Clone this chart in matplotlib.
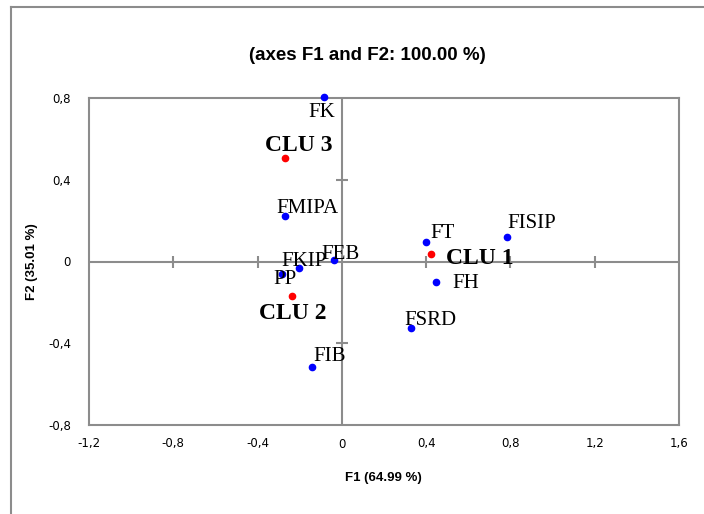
import matplotlib
matplotlib.use("Agg")
import matplotlib.pyplot as plt
from matplotlib.lines import Line2D

# ---- data ----
names = ["FK", "FMIPA", "FKIP", "FEB", "PP", "FIB", "FT", "FISIP", "FH", "FSRD"]
f1 = [-0.085, -0.27, -0.204, -0.038, -0.285, -0.142, 0.399, 0.783, 0.446, 0.327]
f2 = [0.805, 0.222, -0.03, 0.007, -0.06, -0.516, 0.095, 0.12, -0.10, -0.325]

clusters = ["CLU 1", "CLU 2", "CLU 3"]
c1 = [0.422, -0.237, -0.27]
c2 = [0.036, -0.17, 0.506]

xticks = [-1.2, -0.8, -0.4, 0, 0.4, 0.8, 1.2, 1.6]
yticks = [-0.8, -0.4, 0, 0.4, 0.8]
xtick_labels = ["-1,2", "-0,8", "-0,4", "0", "0,4", "0,8", "1,2", "1,6"]
ytick_labels = ["-0,8", "-0,4", "0", "0,4", "0,8"]

title = "(axes F1 and F2: 100.00 %)"
xlabel = "F1 (64.99 %)"
ylabel = "F2 (35.01 %)"

# label offsets in pixels (dx, dy)
name_offsets = {
    "FK": (-2, -16), "FMIPA": (22, 8), "FKIP": (5, 6), "FEB": (7, 6),
    "PP": (3, -6), "FIB": (18, 10), "FT": (17, 9), "FISIP": (25, 13),
    "FH": (30, -2), "FSRD": (20, 7),
}
clu_offsets = {"CLU 1": (49, -4), "CLU 2": (1, -17), "CLU 3": (14, 13)}

grey = "#8c8c8c"
fig = plt.figure(figsize=(7.04, 5.14), dpi=100)
ax = fig.add_axes([89 / 704, 1 - 425 / 514, 590 / 704, 327 / 514])

# outer chart-area frame
fig.add_artist(Line2D([11 / 704, 11 / 704], [0, 1 - 7 / 514], color=grey, lw=1.5, transform=fig.transFigure))
fig.add_artist(Line2D([11 / 704, 1], [1 - 7 / 514, 1 - 7 / 514], color=grey, lw=1.5, transform=fig.transFigure))

ax.set_xlim(xticks[0], xticks[-1])
ax.set_ylim(yticks[0], yticks[-1])
for s in ax.spines.values():
    s.set_color(grey)
    s.set_linewidth(1.5)
ax.set_xticks(xticks)
ax.set_xticklabels(xtick_labels)
ax.set_yticks(yticks)
ax.set_yticklabels(ytick_labels)
ax.tick_params(length=0, labelsize=8.5)
ax.tick_params(axis="x", pad=9)
ax.tick_params(axis="y", pad=13)

# crossing axes
ax.axhline(0, color=grey, lw=1.5, zorder=1)
ax.axvline(0, color=grey, lw=1.5, zorder=1)
inner_x = [t for t in xticks[1:-1] if t != 0]
inner_y = [t for t in yticks[1:-1] if t != 0]
ax.plot(inner_x, [0] * len(inner_x), ls="none", marker="|", ms=9, mew=1.5, color=grey, zorder=1)
ax.plot([0] * len(inner_y), inner_y, ls="none", marker="_", ms=9, mew=1.5, color=grey, zorder=1)

ax.plot(f1, f2, ls="none", marker="o", ms=4.5, color="#0000ff", zorder=3, clip_on=False)
ax.plot(c1, c2, ls="none", marker="o", ms=4.5, color="#ff0000", zorder=3, clip_on=False)

serif = ["Liberation Serif", "DejaVu Serif"]
for n, x, y in zip(names, f1, f2):
    dx, dy = name_offsets[n]
    ax.annotate(n, (x, y), xytext=(dx, dy), textcoords="offset pixels", annotation_clip=False,
                ha="center", va="center", fontsize=15, family=serif, zorder=4)
for n, x, y in zip(clusters, c1, c2):
    dx, dy = clu_offsets[n]
    ax.annotate(n, (x, y), xytext=(dx, dy), textcoords="offset pixels", annotation_clip=False,
                ha="center", va="center", fontsize=17, fontweight="bold", family=serif, zorder=4)

sans = ["Liberation Sans", "DejaVu Sans"]
fig.text(367 / 704, 1 - 55 / 514, title, ha="center", va="center", fontsize=13.5, fontweight="bold", family=sans)
fig.text(383 / 704, 1 - 478 / 514, xlabel, ha="center", va="center", fontsize=9.5, fontweight="bold", family=sans)
fig.text(32 / 704, 1 - 262 / 514, ylabel, ha="center", va="center", rotation=90, fontsize=9.5, fontweight="bold", family=sans)

fig.savefig("out.png", dpi=100)
